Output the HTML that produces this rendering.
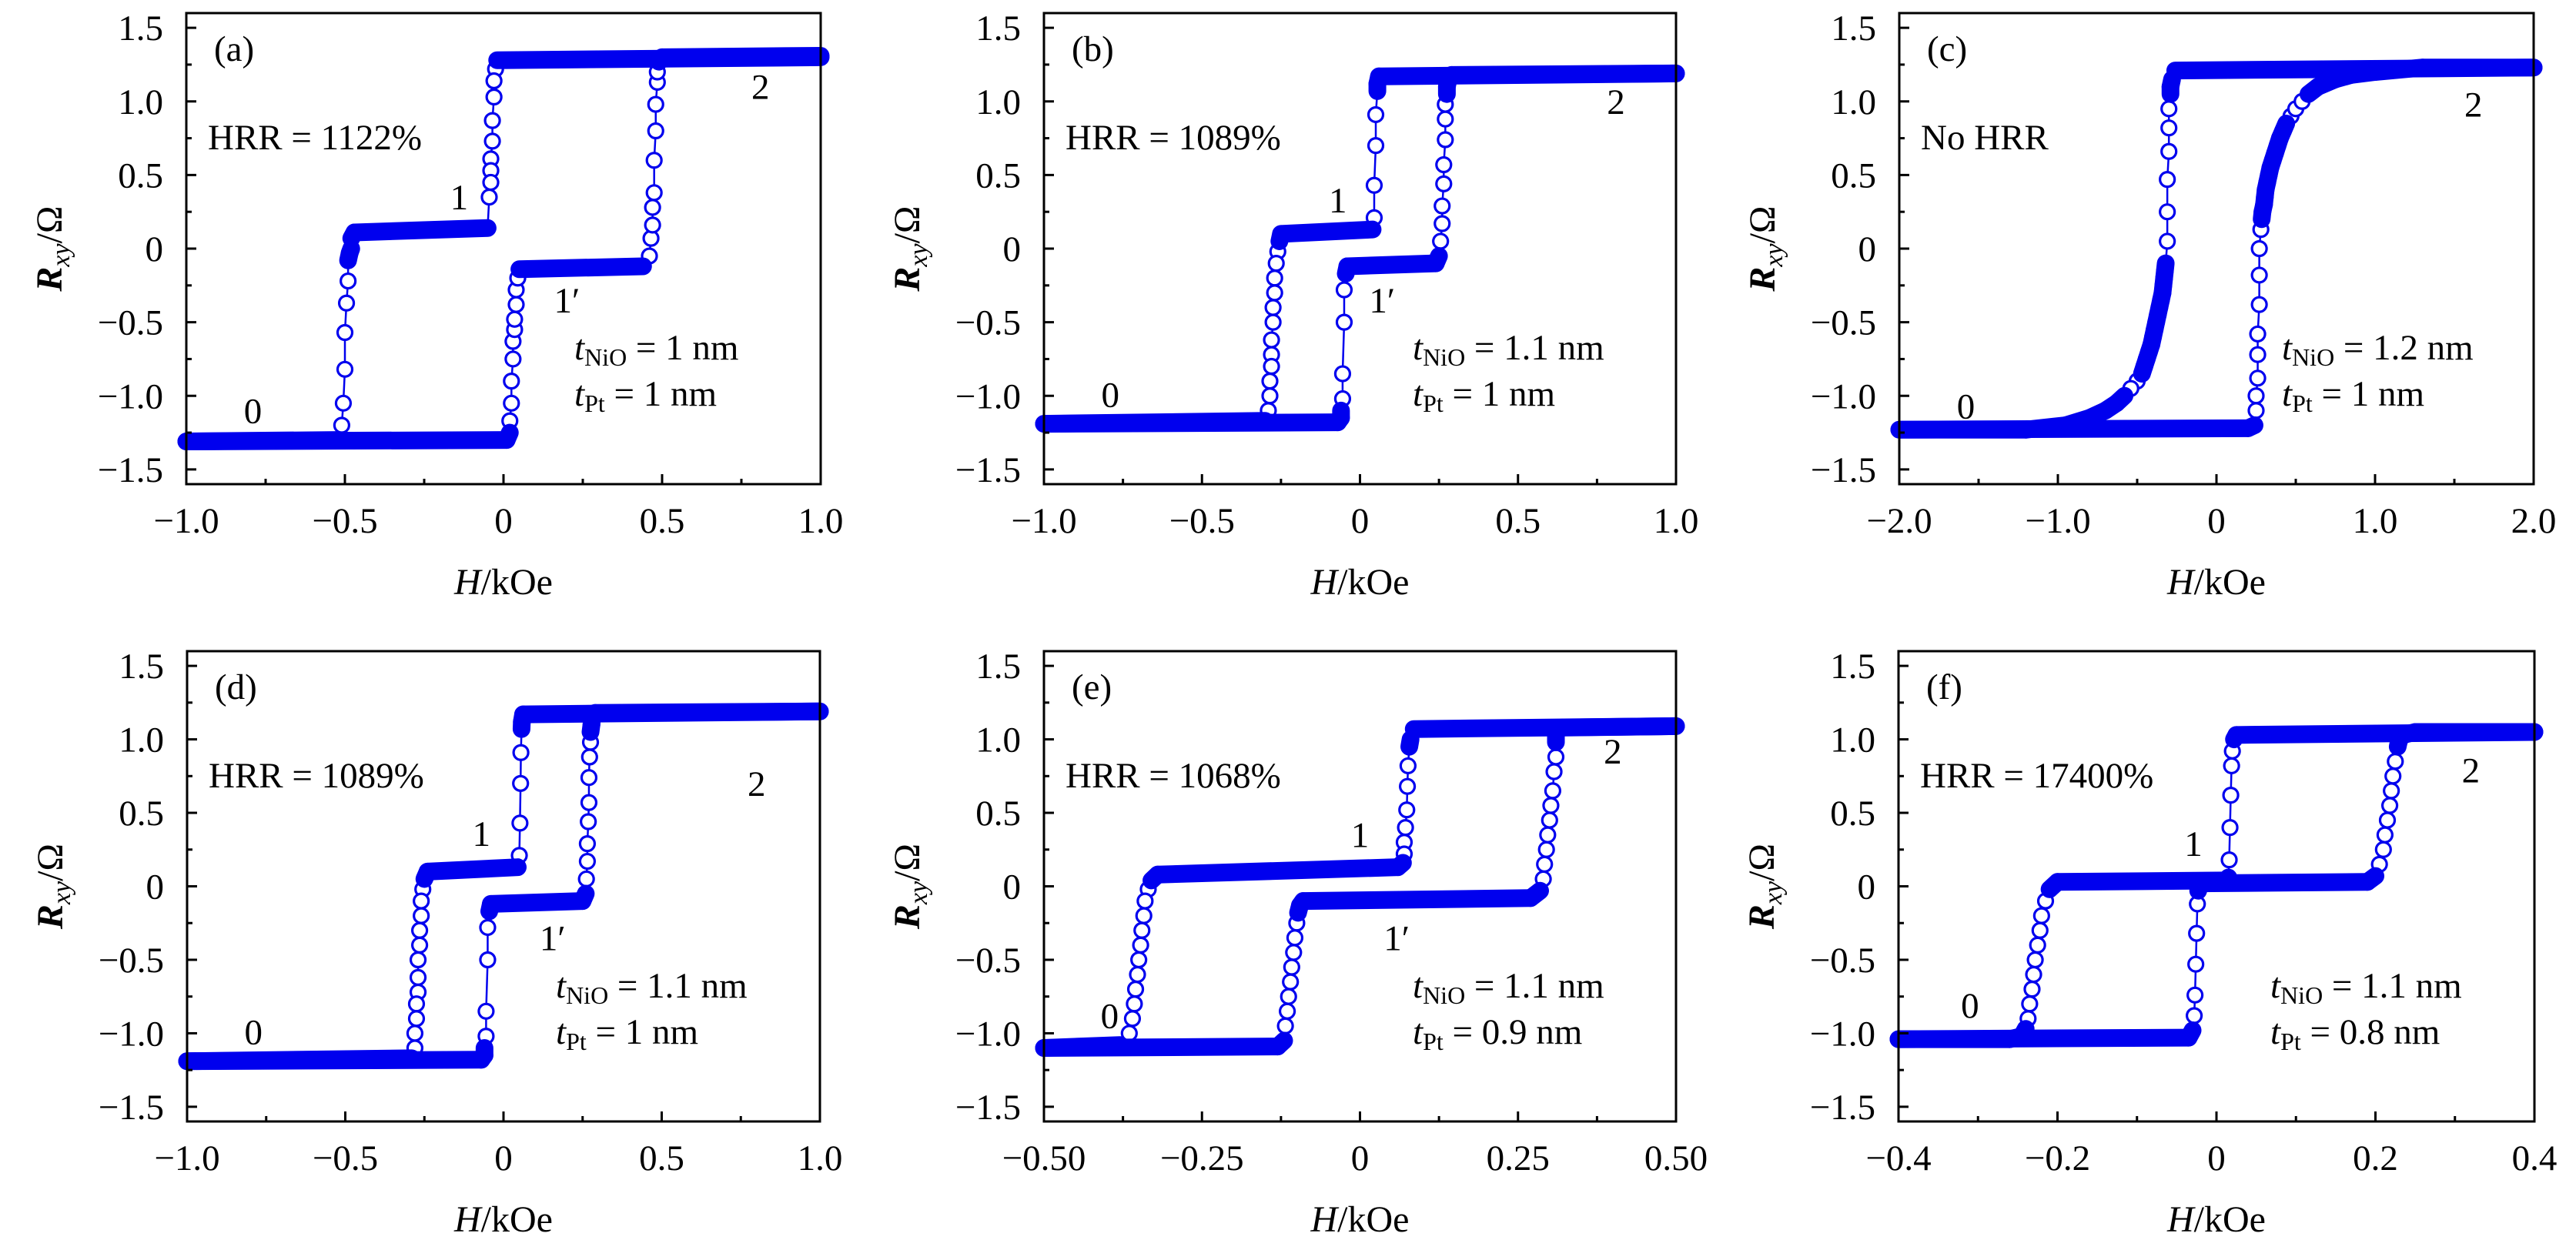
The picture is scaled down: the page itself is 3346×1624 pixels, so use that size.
<!DOCTYPE html>
<html><head><meta charset="utf-8">
<style>
html,body{margin:0;padding:0;background:#fff;}
svg{display:block;}
svg text{font-family:"Liberation Serif","DejaVu Serif",serif;fill:#000;}
</style></head>
<body>
<svg id="fig" width="3346" height="1624" viewBox="0 0 3346 1624" xmlns="http://www.w3.org/2000/svg" font-family="Liberation Serif, DejaVu Serif, serif">
</svg>
<script>
// ---- data (H in kOe, R in ohm) ----
const aHdown=[1.0,-0.02,-0.025,-0.03,-0.03,-0.035,-0.035,-0.04,-0.04,-0.04,-0.045,-0.05,-0.47,-0.48,-0.48,-0.485,-0.49,-0.49,-0.495,-0.5,-0.5,-0.505,-0.51,-0.52,-1.0];
const aRdown=[1.30,1.28,1.22,1.14,1.03,0.87,0.73,0.61,0.53,0.45,0.35,0.14,0.11,0.07,0.0,-0.03,-0.08,-0.22,-0.37,-0.57,-0.82,-1.05,-1.2,-1.30,-1.31];
const aHup=[-1.0,0.01,0.02,0.02,0.025,0.025,0.03,0.03,0.035,0.035,0.04,0.04,0.045,0.05,0.44,0.46,0.465,0.47,0.47,0.475,0.475,0.48,0.48,0.485,0.485,0.49,0.5,1.0];
const aRup=[-1.31,-1.30,-1.25,-1.17,-1.05,-0.9,-0.75,-0.63,-0.55,-0.48,-0.38,-0.28,-0.2,-0.14,-0.12,-0.05,0.07,0.16,0.28,0.38,0.6,0.8,0.98,1.13,1.2,1.27,1.30,1.31];

const bHdown=[1.0,0.06,0.055,0.055,0.05,0.05,0.045,0.045,0.04,-0.25,-0.255,-0.26,-0.265,-0.27,-0.27,-0.275,-0.275,-0.28,-0.28,-0.28,-0.285,-0.285,-0.29,-0.3,-1.0];
const bRdown=[1.19,1.17,1.12,1.07,0.91,0.7,0.43,0.21,0.13,0.1,0.05,-0.02,-0.1,-0.2,-0.3,-0.4,-0.5,-0.62,-0.72,-0.8,-0.9,-1.0,-1.1,-1.17,-1.19];
const bHup=[-1.0,-0.07,-0.06,-0.06,-0.055,-0.055,-0.05,-0.05,-0.045,-0.04,0.24,0.25,0.255,0.26,0.26,0.265,0.265,0.27,0.27,0.27,0.275,0.275,0.28,0.29,1.0];
const bRup=[-1.19,-1.18,-1.15,-1.1,-1.02,-0.85,-0.5,-0.28,-0.17,-0.12,-0.1,-0.05,0.05,0.17,0.29,0.44,0.57,0.74,0.88,0.98,1.05,1.1,1.15,1.18,1.19];

const cHdown=[2.0,-0.26,-0.28,-0.29,-0.29,-0.3,-0.3,-0.3,-0.31,-0.31,-0.31,-0.32,-0.325,-0.33,-0.335,-0.34,-0.35,-0.36,-0.37,-0.38,-0.39,-0.40,-0.41,-0.425,-0.44,-0.455,-0.47,-0.5,-0.54,-0.58,-0.63,-0.7,-0.8,-0.95,-1.2,-2.0];
const cRdown=[1.23,1.21,1.15,1.1,1.05,0.95,0.82,0.66,0.47,0.25,0.05,-0.1,-0.15,-0.2,-0.25,-0.3,-0.35,-0.4,-0.45,-0.5,-0.55,-0.6,-0.65,-0.7,-0.75,-0.8,-0.85,-0.9,-0.95,-1.0,-1.05,-1.1,-1.15,-1.2,-1.23,-1.23];
const cHup=[-2.0,0.2,0.24,0.25,0.25,0.26,0.26,0.26,0.27,0.27,0.27,0.28,0.285,0.29,0.3,0.305,0.31,0.32,0.33,0.34,0.355,0.37,0.385,0.4,0.42,0.44,0.47,0.5,0.54,0.58,0.64,0.75,0.85,1.0,1.3,2.0];
const cRup=[-1.23,-1.22,-1.2,-1.1,-1.0,-0.88,-0.72,-0.58,-0.38,-0.18,0.0,0.13,0.2,0.25,0.3,0.35,0.4,0.45,0.5,0.55,0.6,0.65,0.7,0.75,0.8,0.85,0.9,0.95,1.0,1.05,1.1,1.15,1.18,1.2,1.23,1.23];

const dHdown=[1.0,0.062,0.058,0.057,0.055,0.054,0.052,0.05,0.045,-0.24,-0.25,-0.255,-0.26,-0.26,-0.265,-0.265,-0.27,-0.27,-0.27,-0.275,-0.275,-0.28,-0.28,-0.29,-1.0];
const dRdown=[1.19,1.17,1.12,1.07,0.91,0.7,0.43,0.21,0.13,0.1,0.05,-0.02,-0.1,-0.2,-0.3,-0.4,-0.5,-0.62,-0.72,-0.8,-0.9,-1.0,-1.1,-1.17,-1.19];
const dHup=[-1.0,-0.07,-0.06,-0.06,-0.055,-0.055,-0.05,-0.05,-0.045,-0.04,0.25,0.26,0.262,0.265,0.265,0.268,0.27,0.27,0.272,0.275,0.275,0.278,0.28,0.29,1.0];
const dRup=[-1.19,-1.18,-1.15,-1.1,-1.02,-0.85,-0.5,-0.28,-0.17,-0.12,-0.1,-0.05,0.05,0.17,0.29,0.44,0.57,0.74,0.88,0.98,1.05,1.1,1.15,1.18,1.19];

const eHdown=[0.5,0.085,0.08,0.078,0.076,0.075,0.074,0.072,0.07,0.07,0.068,0.06,-0.32,-0.33,-0.335,-0.34,-0.342,-0.345,-0.347,-0.35,-0.352,-0.355,-0.357,-0.36,-0.365,-0.38,-0.5];
const eRdown=[1.09,1.07,1.0,0.95,0.82,0.68,0.52,0.4,0.3,0.22,0.16,0.13,0.08,0.04,-0.02,-0.1,-0.2,-0.3,-0.4,-0.5,-0.6,-0.7,-0.8,-0.9,-1.0,-1.08,-1.1];
const eHup=[-0.5,-0.13,-0.12,-0.118,-0.115,-0.113,-0.11,-0.108,-0.105,-0.103,-0.1,-0.098,-0.095,-0.09,0.27,0.285,0.29,0.292,0.295,0.297,0.3,0.302,0.305,0.307,0.31,0.31,0.31,0.32,0.5];
const eRup=[-1.1,-1.09,-1.05,-0.95,-0.85,-0.75,-0.65,-0.55,-0.45,-0.35,-0.25,-0.18,-0.13,-0.1,-0.08,-0.03,0.05,0.15,0.25,0.35,0.45,0.55,0.65,0.78,0.88,0.98,1.03,1.08,1.09];

const fHdown=[0.4,0.025,0.022,0.02,0.019,0.018,0.017,0.016,0.015,0.013,-0.2,-0.21,-0.215,-0.22,-0.222,-0.225,-0.228,-0.23,-0.232,-0.235,-0.237,-0.24,-0.245,-0.26,-0.4];
const fRdown=[1.05,1.03,1.0,0.92,0.82,0.62,0.4,0.18,0.06,0.04,0.03,-0.02,-0.1,-0.2,-0.3,-0.4,-0.5,-0.6,-0.7,-0.8,-0.9,-0.97,-1.02,-1.04,-1.04];
const fHup=[-0.4,-0.035,-0.03,-0.028,-0.027,-0.026,-0.025,-0.024,-0.023,-0.02,0.19,0.2,0.205,0.21,0.212,0.215,0.218,0.22,0.222,0.225,0.228,0.23,0.235,0.25,0.4];
const fRup=[-1.04,-1.03,-0.98,-0.88,-0.74,-0.53,-0.32,-0.12,-0.03,0.02,0.03,0.07,0.15,0.25,0.35,0.45,0.55,0.65,0.75,0.85,0.95,1.0,1.03,1.05,1.05];

const yTicks=[-1.5,-1.0,-0.5,0,0.5,1.0,1.5];
const yTickLabels=["−1.5","−1.0","−0.5","0","0.5","1.0","1.5"];
const xTicksA=[-1.0,-0.5,0,0.5,1.0];
const xLabelsA=["−1.0","−0.5","0","0.5","1.0"];
const xTicksC=[-2.0,-1.0,0,1.0,2.0];
const xLabelsC=["−2.0","−1.0","0","1.0","2.0"];
const xTicksE=[-0.5,-0.25,0,0.25,0.5];
const xLabelsE=["−0.50","−0.25","0","0.25","0.50"];
const xTicksF=[-0.4,-0.2,0,0.2,0.4];
const xLabelsF=["−0.4","−0.2","0","0.2","0.4"];

const panels=[
 {id:"a",L:242,T:17,W:824,H:612,xmin:-1,xmax:1,xt:xTicksA,xl:xLabelsA,minor:0.25,
  down:[aHdown,aRdown],up:[aHup,aRup],hrr:"HRR = 1122%",tn:"1",tp:"1",tx:504,
  nums:[["0",-0.79,-1.1],["1",-0.14,0.35],["1′",0.2,-0.35],["2",0.81,1.1]]},
 {id:"b",L:1356,T:17,W:821,H:612,xmin:-1,xmax:1,xt:xTicksA,xl:xLabelsA,minor:0.25,
  down:[bHdown,bRdown],up:[bHup,bRup],hrr:"HRR = 1089%",tn:"1.1",tp:"1",tx:479,
  nums:[["0",-0.79,-0.99],["1",-0.07,0.33],["1′",0.07,-0.35],["2",0.81,1.0]]},
 {id:"c",L:2467,T:17,W:824,H:612,xmin:-2,xmax:2,xt:xTicksC,xl:xLabelsC,minor:0.5,
  down:[cHdown,cRdown],up:[cHup,cRup],hrr:"No HRR",tn:"1.2",tp:"1",tx:497,
  nums:[["0",-1.58,-1.07],["2",1.62,0.98]]},
 {id:"d",L:243,T:846,W:822,H:611,xmin:-1,xmax:1,xt:xTicksA,xl:xLabelsA,minor:0.25,
  down:[dHdown,dRdown],up:[dHup,dRup],hrr:"HRR = 1089%",tn:"1.1",tp:"1",tx:479,
  nums:[["0",-0.79,-0.99],["1",-0.07,0.36],["1′",0.155,-0.35],["2",0.8,0.7]]},
 {id:"e",L:1356,T:846,W:821,H:611,xmin:-0.5,xmax:0.5,xt:xTicksE,xl:xLabelsE,minor:0.125,
  down:[eHdown,eRdown],up:[eHup,eRup],hrr:"HRR = 1068%",tn:"1.1",tp:"0.9",tx:479,
  nums:[["0",-0.396,-0.88],["1",0.0,0.35],["1′",0.058,-0.35],["2",0.40,0.92]]},
 {id:"f",L:2466,T:846,W:826,H:611,xmin:-0.4,xmax:0.4,xt:xTicksF,xl:xLabelsF,minor:0.1,
  down:[fHdown,fRdown],up:[fHup,fRup],hrr:"HRR = 17400%",tn:"1.1",tp:"0.8",tx:483,
  nums:[["0",-0.31,-0.81],["1",-0.029,0.29],["2",0.32,0.79]]}
];

const NS="http://www.w3.org/2000/svg";
const svg=document.getElementById('fig');
const BLUE="#0000ee";
const FONT="Liberation Serif, DejaVu Serif, serif";
function mk(tag,attrs,parent){const e=document.createElementNS(NS,tag);for(const k in attrs)e.setAttribute(k,attrs[k]);if(tag==='text')e.setAttribute('font-family',FONT);(parent||svg).appendChild(e);return e;}

panels.forEach(p=>{
  const g=mk('g',{});
  
  
  const ymin=-1.6,ymax=1.6;
  const sx=v=>p.L+(v-p.xmin)/(p.xmax-p.xmin)*p.W;
  const sy=v=>p.T+(ymax-v)/(ymax-ymin)*p.H;
  const B=p.T+p.H;
  [["descending",p.down],["ascending",p.up]].forEach(([nm,ser])=>{
    const hs=ser[0],rs=ser[1];
    const sg=mk('g',{},g);
    
    
    const pts=hs.map((h,i)=>[sx(h),sy(rs[i])]);
    const line=mk('polyline',{points:pts.map(q=>q.join(',')).join(' '),fill:'none',stroke:BLUE,'stroke-width':2.5},sg);
    
    
    const isBand=[];
    for(let i=0;i<pts.length-1;i++){
      const dx=Math.abs(pts[i+1][0]-pts[i][0]),dy=Math.abs(pts[i+1][1]-pts[i][1]);
      isBand.push(dy<dx||Math.hypot(dx,dy)<11);
    }
    pts.forEach((q,i)=>{
      const inner=(i>0&&isBand[i-1])&&(i<pts.length-1&&isBand[i]);
      if(inner)return;
      const c=mk('circle',{cx:q[0],cy:q[1],r:9.5,fill:'#fff',stroke:BLUE,'stroke-width':3.2},sg);
      
      
    });
    for(let i=0;i<pts.length-1;i++){
      if(!isBand[i])continue;
      const seg=mk('line',{x1:pts[i][0],y1:pts[i][1],x2:pts[i+1][0],y2:pts[i+1][1],stroke:BLUE,'stroke-width':23,'stroke-linecap':'round'},sg);
      
      
    }
  });
  const fr=mk('rect',{x:p.L,y:p.T,width:p.W,height:p.H,fill:'none',stroke:'#000','stroke-width':3},g);
  
  
  yTicks.forEach((v,i)=>{
    const t=mk('line',{x1:p.L,x2:p.L+13,y1:sy(v),y2:sy(v),stroke:'#000','stroke-width':3},g);
    
    
    const lb=mk('text',{x:p.L-30,y:sy(v)+16,'text-anchor':'end','font-size':47},g);
    lb.textContent=yTickLabels[i];
    
    
    if(i<yTicks.length-1){
      const m=mk('line',{x1:p.L,x2:p.L+7,y1:sy(v+0.25),y2:sy(v+0.25),stroke:'#000','stroke-width':3},g);
      
      
    }
  });
  p.xt.forEach((v,i)=>{
    const t=mk('line',{x1:sx(v),x2:sx(v),y1:B,y2:B-13,stroke:'#000','stroke-width':3},g);
    
    
    const lb=mk('text',{x:sx(v),y:B+63,'text-anchor':'middle','font-size':47},g);
    lb.textContent=p.xl[i];
    
    
    if(i<p.xt.length-1){
      const m=mk('line',{x1:sx(v+p.minor),x2:sx(v+p.minor),y1:B,y2:B-7,stroke:'#000','stroke-width':3},g);
      
      
    }
  });
  const xt=mk('text',{x:p.L+p.W/2,y:B+143,'text-anchor':'middle','font-size':48},g);
  xt.innerHTML='<tspan font-style="italic">H</tspan>/kOe';
  
  
  const cy=p.T+p.H/2;
  const yt=mk('text',{x:0,y:0,'text-anchor':'middle','font-size':48,transform:`translate(${p.L-162},${cy}) rotate(-90)`},g);
  yt.innerHTML='<tspan font-style="italic" font-weight="bold">R</tspan><tspan font-style="italic" font-size="34" dy="10">xy</tspan><tspan dy="-10">/Ω</tspan>';
  
  
  const pl=mk('text',{x:p.L+36,y:p.T+62,'font-size':47},g);
  pl.textContent='('+p.id+')';
  
  
  const hr=mk('text',{x:p.L+28,y:p.T+177,'font-size':47},g);
  hr.textContent=p.hrr;
  
  
  const t1=mk('text',{x:p.L+p.tx,y:p.T+450,'font-size':47},g);
  t1.innerHTML='<tspan font-style="italic">t</tspan><tspan font-size="32" dy="8">NiO</tspan><tspan dy="-8"> = '+p.tn+' nm</tspan>';
  
  
  const t2=mk('text',{x:p.L+p.tx,y:p.T+510,'font-size':47},g);
  t2.innerHTML='<tspan font-style="italic">t</tspan><tspan font-size="32" dy="8">Pt</tspan><tspan dy="-8"> = '+p.tp+' nm</tspan>';
  
  
  p.nums.forEach(n=>{
    const s=mk('text',{x:sx(n[1]),y:sy(n[2])+16,'text-anchor':'middle','font-size':47},g);
    s.textContent=n[0];
    
    
  });
});
</script>
</body></html>
